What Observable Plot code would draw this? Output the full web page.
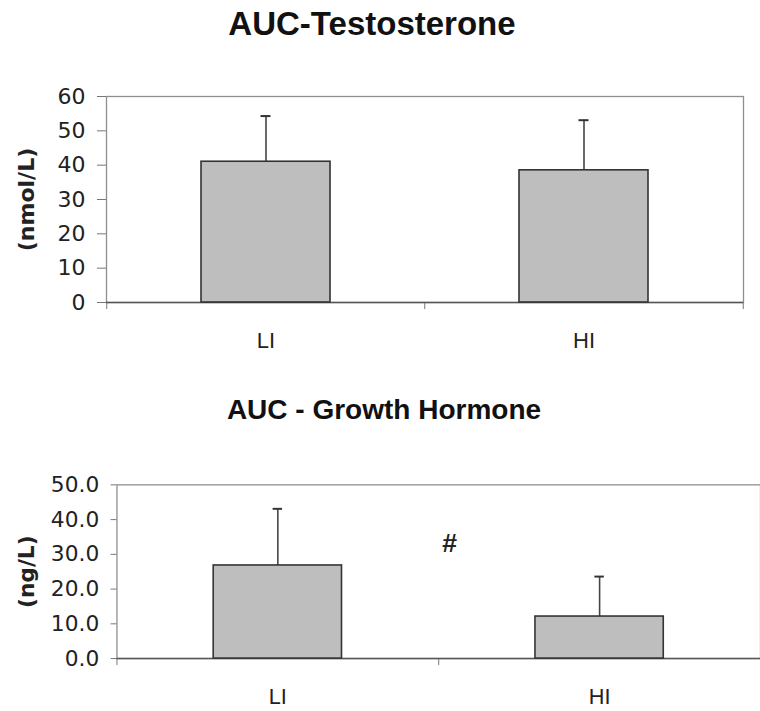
<!DOCTYPE html>
<html>
<head>
<meta charset="utf-8">
<script src="https://cdn.jsdelivr.net/npm/d3@7"></script>
<script src="https://cdn.jsdelivr.net/npm/@observablehq/plot@0.6"></script>
<style>
  html, body { margin: 0; padding: 0; background: #fff; overflow: hidden; }
  #wrap { position: relative; width: 760px; height: 711px; overflow: hidden;
          font-family: "Liberation Sans", Arial, Helvetica, sans-serif; }
  .title { position: absolute; left: 0; width: 760px; text-align: center;
           font-weight: bold; line-height: 1; color: #111; white-space: nowrap; }
  .panel { position: absolute; left: 0; }
</style>
</head>
<body>
<div id="wrap">
  <div class="title" id="t1"></div>
  <div class="title" id="t2"></div>
  <div class="panel" id="p1"></div>
  <div class="panel" id="p2"></div>
</div>
<script>
// Groups (low / high intensity)
const groups = ["LI", "HI"];

// Area under the curve, testosterone (nmol/L): mean and SD
const testoMean = [41.0, 38.5];
const testoSD = [13.3, 14.6];
const testoTicks = [0, 10, 20, 30, 40, 50, 60];

// Area under the curve, growth hormone (ng/L): mean and SD
const ghMean = [26.8, 12.1];
const ghSD = [16.3, 11.5];
const ghTicks = [0, 10, 20, 30, 40, 50];

// Significance marker between the groups
const ghMarks = [{label: "#", y: 33}];

const titles = ["AUC-Testosterone", "AUC - Growth Hormone"];
const units = ["(nmol/L)", "(ng/L)"];

const font = "'Liberation Sans', Arial, Helvetica, sans-serif";
const wideFont = "'DejaVu Sans', Verdana, sans-serif";

function panel({means, sds, ticks, tickFormat, unit, width, height, margin, pad,
                tickSize, tickPadding, unitDx, marks = [], rightEdge}) {
  const data = groups.map((g, i) => ({group: g, mean: means[i], top: means[i] + sds[i]}));
  const plotW = width - margin.left - margin.right;
  const plotH = height - margin.top - margin.bottom;
  const step = plotW / groups.length;
  const half = step / 2;
  const bw = step * (1 - pad);
  const capInset = (bw - 10) / 2;
  const tickLen = 7;
  const edgeTick = {insetTop: plotH, insetBottom: -tickLen, stroke: "#777", strokeWidth: 1};
  const out = [
    Plot.frame({stroke: "#8f8f8f", strokeWidth: 1.3}),
    // category boundary ticks below the baseline
    Plot.ruleX(groups, {x: d => d, dx: -half, ...edgeTick}),
    ...(rightEdge ? [Plot.ruleX(["HI"], {x: d => d, dx: half, ...edgeTick})] : []),
    Plot.ruleY([0], {stroke: "#555", strokeWidth: 1.5}),
    // error bars (mean + SD) with a short cap
    Plot.ruleX(data, {x: "group", y1: "mean", y2: "top", stroke: "#444", strokeWidth: 1.6}),
    Plot.tickY(data, {x: "group", y: "top", stroke: "#333", strokeWidth: 2,
                      insetLeft: capInset, insetRight: capInset}),
    Plot.barY(data, {x: "group", y: "mean", fill: "#bebebe", stroke: "#333", strokeWidth: 1.6}),
    Plot.axisY(ticks, {tickSize, tickPadding, tickFormat, fontSize: 22, fontFamily: wideFont,
                       stroke: "#777", fill: "#222", label: null}),
    Plot.axisX({tickSize: 0, tickPadding: 30, fontSize: 22, fill: "#222", label: null}),
    Plot.text([unit], {frameAnchor: "left", text: d => d, rotate: -90, dx: unitDx,
                       textAnchor: "middle", fontSize: 22, fontFamily: wideFont,
                       fontWeight: "bold", fill: "#222"}),
    ...marks.map(m => Plot.text(m.data, {x: () => "LI", y: "y", text: "label", dx: half + 11,
                                         fontSize: 27, fontWeight: "bold", fill: "#222"}))
  ];
  return Plot.plot({
    width, height,
    marginTop: margin.top, marginRight: margin.right,
    marginBottom: margin.bottom, marginLeft: margin.left,
    x: {domain: groups, paddingInner: pad, paddingOuter: pad / 2, axis: null},
    y: {domain: [ticks[0], ticks[ticks.length - 1]], axis: null},
    style: {fontFamily: font, background: "transparent", color: "#222", overflow: "visible"},
    marks: out
  });
}

// Titles
const t1 = document.getElementById("t1");
t1.textContent = titles[0];
t1.style.fontSize = "33px";
t1.style.top = "7px";
t1.style.left = "-8px";
const t2 = document.getElementById("t2");
t2.textContent = titles[1];
t2.style.fontSize = "28px";
t2.style.top = "396px";
t2.style.left = "4px";

// Upper panel: testosterone
const p1 = document.getElementById("p1");
p1.style.top = "0px";
p1.appendChild(panel({
  means: testoMean, sds: testoSD, ticks: testoTicks, tickFormat: d => String(d),
  unit: units[0], width: 760, height: 360,
  margin: {top: 96, right: 17, bottom: 58, left: 106}, pad: 0.595,
  tickSize: 9, tickPadding: 12, unitDx: -80, rightEdge: true
}));

// Lower panel: growth hormone (right edge runs past the window)
const p2 = document.getElementById("p2");
p2.style.top = "360px";
p2.appendChild(panel({
  means: ghMean, sds: ghSD, ticks: ghTicks, tickFormat: d => d.toFixed(1),
  unit: units[1], width: 770, height: 351,
  margin: {top: 126, right: 0, bottom: 49, left: 118}, pad: 0.6,
  tickSize: 6, tickPadding: 12, unitDx: -91, rightEdge: false,
  marks: [{data: ghMarks}]
}));
</script>
</body>
</html>
